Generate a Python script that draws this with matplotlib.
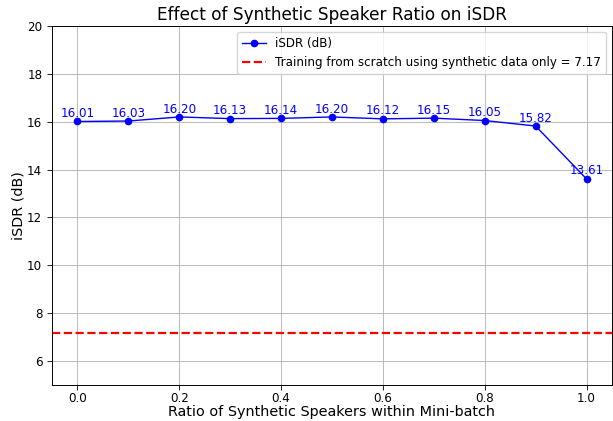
import numpy as np
import matplotlib
matplotlib.use("Agg")
import matplotlib.pyplot as plt

# synthetic speaker ratio vs iSDR
ratios = [0.0, 0.1, 0.2, 0.3, 0.4, 0.5, 0.6, 0.7, 0.8, 0.9, 1.0]
isdr = [16.01, 16.03, 16.20, 16.13, 16.14, 16.20, 16.12, 16.15, 16.05, 15.82, 13.61]
scratch_isdr = 7.17

DPI = 100
fig = plt.figure(figsize=(6.13, 4.21), dpi=DPI)
ax = fig.add_axes([52 / 613, 36 / 421, 560 / 613, 359 / 421])

ax.plot(ratios, isdr, marker='o', color='blue', linewidth=1.0, markersize=4.5, label='iSDR (dB)')
ax.axhline(y=scratch_isdr, color='red', linestyle='--', linewidth=1.6,
           label=f'Training from scratch using synthetic data only = {scratch_isdr}')

for x, y in zip(ratios, isdr):
    ax.text(x, y + 0.06, f'{y:.2f}', ha='center', va='bottom', color='blue', fontsize=8.6)

ax.set_ylim(5, 20)
ax.set_xlabel('Ratio of Synthetic Speakers within Mini-batch', fontsize=10.4, labelpad=0)
ax.set_ylabel('iSDR (dB)', fontsize=10.4, labelpad=1)
ax.set_title('Effect of Synthetic Speaker Ratio on iSDR', fontsize=12.2, pad=4)
ax.tick_params(labelsize=8.6, width=0.6, length=3.5)
ax.tick_params(axis='x', pad=1.5)
for s in ax.spines.values():
    s.set_linewidth(0.7)
ax.grid(True, linewidth=0.6)
ax.legend(loc='upper right', fontsize=8.6)

fig.savefig('out.png', dpi=DPI)
